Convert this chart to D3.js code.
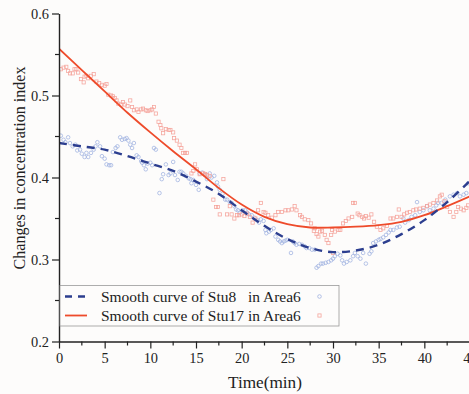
<!DOCTYPE html>
<html>
<head>
<meta charset="utf-8">
<script src="https://cdn.jsdelivr.net/npm/d3@7"></script>
<style>
  html, body { margin: 0; padding: 0; background: #fdfcfb; }
  svg { display: block; }
  text { font-family: "Liberation Serif", "Times New Roman", serif; fill: #222; }
</style>
</head>
<body>
<svg id="chart" width="469" height="394"></svg>
<script>
// ---------- data ----------
const xTicks = [0, 5, 10, 15, 20, 25, 30, 35, 40, 45];
const yTicks = [0.2, 0.3, 0.4, 0.5, 0.6];

const smoothTime = [0, 2.5, 5, 7.5, 10, 12.5, 15, 17.5, 20, 22.5, 25, 27.5, 30, 32.5, 35, 37.5, 40, 42.5, 45];
const smoothStu8 = [0.442, 0.438, 0.434, 0.426, 0.417, 0.408, 0.395, 0.380, 0.360, 0.341, 0.325, 0.314, 0.309, 0.311, 0.318, 0.331, 0.348, 0.370, 0.396];
const smoothStu17 = [0.557, 0.531, 0.505, 0.479, 0.455, 0.432, 0.410, 0.387, 0.367, 0.352, 0.343, 0.339, 0.339, 0.340, 0.342, 0.346, 0.354, 0.365, 0.377];

const stu8Time = [0.2, 0.5, 0.7, 1.0, 1.2, 1.5, 1.8, 2.0, 2.3, 2.5, 2.8, 3.0, 3.2, 3.5, 3.8, 4.0, 4.2, 4.5, 4.7, 5.0,
  5.2, 5.5, 5.7, 5.9, 6.2, 6.4, 6.7, 6.9, 7.2, 7.4, 7.6, 7.8, 8.0, 8.2, 8.5, 8.7, 9.0, 9.1, 9.3, 9.5,
  9.7, 10.0, 10.2, 10.4, 10.6, 11.0, 11.25, 11.4, 11.7, 12.0, 12.2, 12.5, 12.7, 13.0, 13.2, 13.4, 13.6, 13.9, 14.2, 14.4,
  14.5, 14.7, 15.0, 15.3, 15.4, 15.7, 16.0, 16.2, 16.5, 16.7, 17.0, 17.3, 17.4, 17.6, 17.9, 18.2, 18.4, 18.7, 18.9, 19.2,
  19.4, 19.6, 19.8, 20.1, 20.4, 20.6, 20.8, 21.1, 21.4, 21.7, 21.9, 22.1, 22.4, 22.6, 22.7, 23.0, 23.2, 23.5, 23.7, 24.0,
  24.2, 24.4, 24.6, 24.8, 25.0, 25.4, 25.6, 25.8, 26.0, 26.3, 26.6, 26.9, 27.1, 27.4, 27.7, 28.0, 28.2, 28.4, 28.7, 28.9,
  29.2, 29.5, 29.8, 30.0, 30.2, 30.5, 30.8, 31.0, 31.2, 31.5, 31.9, 32.2, 32.4, 32.7, 33.0, 33.3, 33.6, 34.0, 34.2, 34.4,
  34.7, 35.0, 35.2, 35.5, 35.8, 36.1, 36.3, 36.6, 37.0, 37.3, 37.7, 37.9, 38.3, 38.6, 39.0, 39.2, 39.5, 39.9, 40.3, 40.6,
  40.8, 41.0, 41.3, 41.5, 41.9, 42.3, 42.8, 43.2, 43.6, 43.9, 44.3, 44.6, 44.8];
const stu8Values = [0.451, 0.446, 0.443, 0.449, 0.442, 0.438, 0.440, 0.433, 0.434, 0.429, 0.425, 0.430, 0.425, 0.430, 0.434, 0.438, 0.443, 0.438, 0.426, 0.423,
  0.416, 0.415, 0.415, 0.431, 0.436, 0.438, 0.449, 0.446, 0.447, 0.448, 0.445, 0.440, 0.436, 0.442, 0.427, 0.425, 0.420, 0.418, 0.415, 0.410,
  0.417, 0.418, 0.415, 0.436, 0.434, 0.381, 0.398, 0.404, 0.416, 0.403, 0.405, 0.419, 0.403, 0.397, 0.407, 0.407, 0.405, 0.402, 0.399, 0.398,
  0.393, 0.397, 0.391, 0.385, 0.405, 0.406, 0.403, 0.398, 0.405, 0.400, 0.402, 0.394, 0.389, 0.385, 0.380, 0.373, 0.373, 0.370, 0.369, 0.365,
  0.361, 0.360, 0.357, 0.360, 0.360, 0.357, 0.355, 0.354, 0.351, 0.348, 0.345, 0.349, 0.347, 0.336, 0.332, 0.334, 0.336, 0.338, 0.328, 0.324,
  0.322, 0.320, 0.322, 0.323, 0.324, 0.308, 0.322, 0.320, 0.318, 0.319, 0.318, 0.316, 0.314, 0.314, 0.312, 0.312, 0.290, 0.292, 0.295, 0.295,
  0.296, 0.297, 0.299, 0.301, 0.304, 0.307, 0.305, 0.299, 0.295, 0.297, 0.299, 0.304, 0.308, 0.304, 0.301, 0.308, 0.295, 0.307, 0.310, 0.320,
  0.322, 0.324, 0.325, 0.327, 0.330, 0.333, 0.336, 0.336, 0.339, 0.340, 0.350, 0.345, 0.348, 0.352, 0.354, 0.370, 0.358, 0.360, 0.365, 0.360,
  0.356, 0.362, 0.366, 0.369, 0.369, 0.373, 0.377, 0.379, 0.381, 0.377, 0.379, 0.381, 0.393];

const stu17Time = [0.2, 0.5, 0.8, 1.0, 1.2, 1.5, 1.7, 1.9, 2.1, 2.4, 2.7, 2.8, 3.0, 3.2, 3.5, 3.8, 4.1, 4.4, 4.7, 5.0,
  5.2, 5.4, 5.7, 5.9, 6.1, 6.3, 6.5, 6.8, 7.0, 7.2, 7.5, 7.8, 8.0, 8.2, 8.5, 8.7, 9.0, 9.2, 9.5, 9.7,
  10.0, 10.2, 10.4, 10.6, 10.9, 11.1, 11.2, 11.4, 11.7, 12.0, 12.2, 12.5, 12.6, 12.9, 13.2, 13.4, 13.6, 13.8, 14.0, 14.5,
  14.7, 14.9, 15.1, 15.4, 15.8, 16.0, 16.2, 16.5, 16.9, 17.2, 17.4, 17.6, 18.0, 18.4, 18.7, 18.9, 19.2, 19.5, 19.7, 20.0,
  20.3, 20.6, 20.9, 21.2, 21.5, 21.8, 22.1, 22.4, 22.6, 22.9, 23.3, 23.7, 24.0, 24.4, 24.8, 25.1, 25.5, 25.8, 26.0, 26.4,
  26.6, 26.9, 27.3, 27.6, 27.9, 28.0, 28.2, 28.4, 28.6, 28.8, 29.1, 29.3, 29.5, 29.8, 29.9, 30.0, 30.2, 30.6, 30.8, 31.1,
  31.4, 31.7, 32.1, 32.2, 32.4, 32.7, 32.9, 33.2, 33.4, 33.6, 33.9, 34.2, 34.5, 34.8, 35.2, 35.5, 35.9, 36.3, 36.6, 37.0,
  37.2, 37.5, 37.8, 38.1, 38.4, 38.8, 39.1, 39.5, 39.9, 40.3, 40.6, 41.0, 41.4, 41.7, 41.9, 42.2, 42.5, 42.8, 43.2, 43.5,
  43.7, 44.0, 44.3, 44.6, 44.8];
const stu17Values = [0.532, 0.534, 0.535, 0.530, 0.527, 0.527, 0.532, 0.532, 0.528, 0.520, 0.516, 0.523, 0.524, 0.521, 0.524, 0.526, 0.517, 0.515, 0.513, 0.512,
  0.514, 0.501, 0.500, 0.499, 0.497, 0.494, 0.490, 0.489, 0.492, 0.489, 0.487, 0.494, 0.486, 0.482, 0.483, 0.480, 0.483, 0.484, 0.482, 0.481,
  0.482, 0.483, 0.486, 0.478, 0.468, 0.464, 0.460, 0.454, 0.459, 0.458, 0.458, 0.455, 0.448, 0.445, 0.440, 0.436, 0.430, 0.430, 0.430, 0.405,
  0.408, 0.416, 0.410, 0.404, 0.405, 0.404, 0.403, 0.402, 0.373, 0.364, 0.364, 0.355, 0.398, 0.355, 0.365, 0.355, 0.350, 0.354, 0.354, 0.355,
  0.353, 0.356, 0.352, 0.345, 0.350, 0.360, 0.369, 0.358, 0.357, 0.354, 0.351, 0.354, 0.358, 0.358, 0.360, 0.360, 0.361, 0.365, 0.360, 0.354,
  0.352, 0.349, 0.348, 0.344, 0.335, 0.338, 0.331, 0.328, 0.334, 0.335, 0.330, 0.324, 0.320, 0.330, 0.336, 0.308, 0.334, 0.336, 0.336, 0.344,
  0.347, 0.350, 0.352, 0.369, 0.369, 0.356, 0.354, 0.352, 0.350, 0.353, 0.351, 0.355, 0.346, 0.340, 0.336, 0.338, 0.341, 0.350, 0.350, 0.352,
  0.361, 0.352, 0.355, 0.357, 0.358, 0.360, 0.361, 0.362, 0.363, 0.365, 0.367, 0.369, 0.372, 0.377, 0.379, 0.371, 0.364, 0.358, 0.352, 0.358,
  0.364, 0.362, 0.360, 0.363, 0.366];

const seriesNames = ["Smooth curve of Stu8", "Smooth curve of Stu17"];
const legendSuffix = "in Area6";
const xTitle = "Time(min)";
const yTitle = "Changes in concentration index";

// ---------- drawing ----------
const svg = d3.select("#chart");
const x = d3.scaleLinear().domain([0, 45]).range([59, 470]);
const y = d3.scaleLinear().domain([0.2, 0.6]).range([341.5, 13.5]);

const blueLine = "#2c3e8f", redLine = "#ee4b2b";
const bluePt = "#9fb1e0", redPt = "#f5a39b";

// scale a text's font size so that its rendered width matches a target width
function fitWidth(sel, target, base) {
  sel.attr("font-size", base);
  const w = sel.node().getComputedTextLength();
  if (w > 0) sel.attr("font-size", (base * target / w).toFixed(2));
  return sel;
}

svg.append("defs").append("clipPath").attr("id", "clip")
  .append("rect").attr("x", 59).attr("y", 13).attr("width", 420).attr("height", 329);

const plot = svg.append("g").attr("clip-path", "url(#clip)");

// scatter: Stu8 circles
plot.append("g").selectAll("circle")
  .data(stu8Time.map((t, i) => [t, stu8Values[i]]))
  .join("circle")
  .attr("cx", d => x(d[0])).attr("cy", d => y(d[1]))
  .attr("r", 1.8).attr("fill", "none")
  .attr("stroke", bluePt).attr("stroke-width", 0.75);

// scatter: Stu17 squares
plot.append("g").selectAll("rect")
  .data(stu17Time.map((t, i) => [t, stu17Values[i]]))
  .join("rect")
  .attr("x", d => x(d[0]) - 1.6).attr("y", d => y(d[1]) - 1.6)
  .attr("width", 3.2).attr("height", 3.2).attr("fill", "none")
  .attr("stroke", redPt).attr("stroke-width", 0.75);

const line = d3.line().x(d => x(d[0])).y(d => y(d[1])).curve(d3.curveCatmullRom.alpha(0.5));

plot.append("path")
  .datum(smoothTime.map((t, i) => [t, smoothStu17[i]]))
  .attr("d", line).attr("fill", "none")
  .attr("stroke", redLine).attr("stroke-width", 1.8);

plot.append("path")
  .datum(smoothTime.map((t, i) => [t, smoothStu8[i]]))
  .attr("d", line).attr("fill", "none")
  .attr("stroke", blueLine).attr("stroke-width", 2.4)
  .attr("stroke-dasharray", "8,6");

// axes
const axisColor = "#222";
const minorX = d3.range(2.5, 45, 5);
const minorY = [0.25, 0.35, 0.45, 0.55];

const xAxis = svg.append("g").attr("transform", "translate(0,341.5)")
  .call(d3.axisBottom(x).tickValues(xTicks).tickSize(7).tickSizeOuter(0).tickFormat(d3.format("d")));
xAxis.append("g").selectAll("line").data(minorX).join("line")
  .attr("x1", d => x(d)).attr("x2", d => x(d)).attr("y1", 0).attr("y2", 4);

const yAxis = svg.append("g").attr("transform", "translate(59,0)")
  .call(d3.axisLeft(y).tickValues(yTicks).tickSize(7).tickSizeOuter(0).tickFormat(d3.format(".1f")));
yAxis.append("g").selectAll("line").data(minorY).join("line")
  .attr("x1", 0).attr("x2", -4).attr("y1", d => y(d)).attr("y2", d => y(d));

[xAxis, yAxis].forEach(a => {
  a.selectAll("path.domain").attr("stroke", axisColor).attr("stroke-width", 1.4);
  a.selectAll("line").attr("stroke", axisColor).attr("stroke-width", 1.2);
  a.selectAll("text").attr("font-family", null).attr("font-size", null).attr("fill", "#222");
});
xAxis.attr("font-family", null).attr("font-size", null);
yAxis.attr("font-family", null).attr("font-size", null);

// tick label size: "0.5" is about 18 px wide in the reference
const probe = svg.append("text").text("0.5");
fitWidth(probe, 18, 14);
const tickSize = +probe.attr("font-size");
probe.remove();
xAxis.selectAll(".tick text").attr("font-size", tickSize).attr("dy", "0.71em").attr("y", 11);
yAxis.selectAll(".tick text").attr("font-size", tickSize).attr("x", -10);

// titles
fitWidth(svg.append("text").attr("x", 265).attr("y", 388).attr("text-anchor", "middle").text(xTitle), 74, 17);
fitWidth(svg.append("text").attr("transform", "translate(24.5,168) rotate(-90)")
  .attr("text-anchor", "middle").text(yTitle), 203, 17);

// legend
const lg = svg.append("g");
lg.append("rect").attr("x", 60).attr("y", 285.5).attr("width", 279).attr("height", 40.5)
  .attr("fill", "#fdfcfb").attr("stroke", "#999").attr("stroke-width", 0.8);
const rows = [296.5, 315.5];
lg.append("line").attr("x1", 65).attr("x2", 87).attr("y1", rows[0]).attr("y2", rows[0])
  .attr("stroke", blueLine).attr("stroke-width", 2.4).attr("stroke-dasharray", "7,6");
lg.append("line").attr("x1", 65).attr("x2", 87).attr("y1", rows[1]).attr("y2", rows[1])
  .attr("stroke", redLine).attr("stroke-width", 1.8);

const nameTexts = seriesNames.map((n, i) =>
  lg.append("text").attr("x", 101).attr("y", rows[i] + 5).text(n));
fitWidth(nameTexts[1], 143, 15);
const legendSize = +nameTexts[1].attr("font-size");
nameTexts[0].attr("font-size", legendSize);
seriesNames.forEach((n, i) => {
  lg.append("text").attr("x", 248).attr("y", rows[i] + 5).attr("font-size", legendSize).text(legendSuffix);
});
lg.append("circle").attr("cx", 319.5).attr("cy", rows[0]).attr("r", 1.8)
  .attr("fill", "none").attr("stroke", bluePt).attr("stroke-width", 0.8);
lg.append("rect").attr("x", 319.5 - 1.6).attr("y", rows[1] - 1.6).attr("width", 3.2).attr("height", 3.2)
  .attr("fill", "none").attr("stroke", redPt).attr("stroke-width", 0.8);
</script>
</body>
</html>
